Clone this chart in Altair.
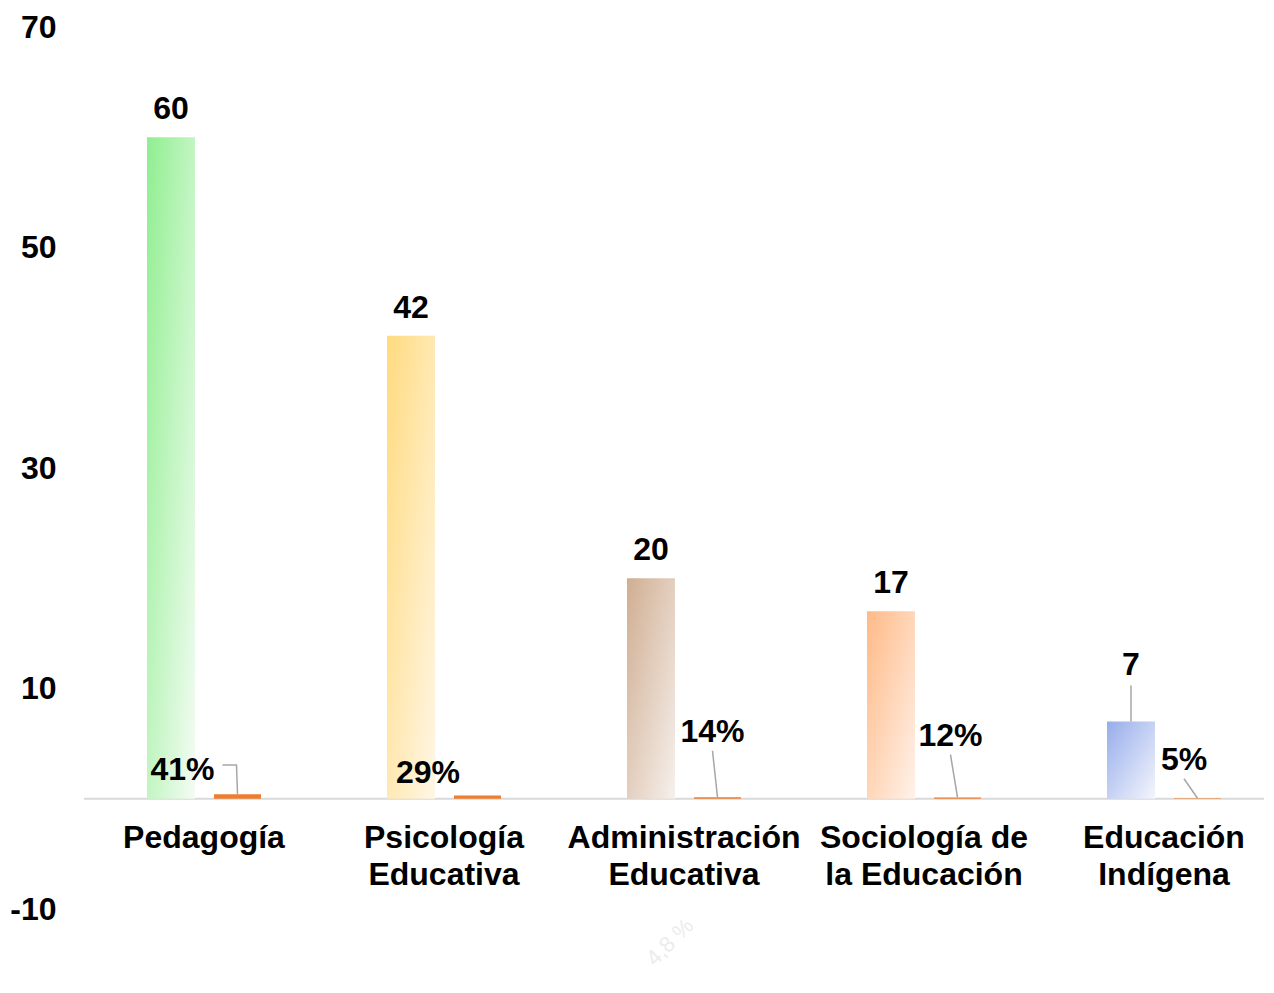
import altair as alt
import pandas as pd

# ---------------- data ----------------
categories = ["Pedagogía", "Psicología\nEducativa", "Administración\nEducativa",
              "Sociología de\nla Educación", "Educación\nIndígena"]
counts = [60, 42, 20, 17, 7]
shares = [0.41, 0.29, 0.14, 0.12, 0.05]
share_text = ["41%", "29%", "14%", "12%", "5%"]
watermark_text = "4,8 %"

y_ticks = [-10, 10, 30, 50, 70]

bar_color_dark = ["#90EE90", "#FFDB7F", "#D0AE92", "#FFBA87", "#97ADEB"]
bar_color_light = ["#F4FCF4", "#FFF6E6", "#F6F0EC", "#FFF2EA", "#F4F6FD"]
share_color = "#ED7D31"

# moved data labels (as in the source chart)
count_label_lift = [0, 0, 0, 0, 2.59]            # data units above bar top
pct_label_dx = [-21.5, -16, 28.5, 26.5, 20]      # px from category centre
pct_label_y = [2.64, 2.37, 6.09, 5.73, 3.55]     # data units
leader_kind = ["elbow", "none", "straight", "straight", "straight"]

# ---------------- layout ----------------
FONT = "Liberation Sans"
FS = 32
W, H = 1180, 882
PXX = 240.0            # px per category
PXY = H / 80.0         # px per y unit
B1 = (-57, -9)         # first bar, px from category centre
B2 = (10, 57)          # second bar
C1 = (B1[0] + B1[1]) / 2
C2 = (B2[0] + B2[1]) / 2

rows = []
for i, c in enumerate(categories):
    rows.append(dict(
        idx=i, cat=c, count=counts[i], share=shares[i], ptxt=share_text[i],
        x0=i + B1[0] / PXX, x1=i + B1[1] / PXX,
        s0=i + B2[0] / PXX, s1=i + B2[1] / PXX,
        cx=i + C1 / PXX, cly=counts[i] + count_label_lift[i],
        plx=i + pct_label_dx[i] / PXX, ply=pct_label_y[i],
    ))
df = pd.DataFrame(rows)

lead = []
lid = 0
for i in range(len(categories)):
    lx = i + pct_label_dx[i] / PXX
    lyc = pct_label_y[i] + 1.9 / PXY
    bx = i + C2 / PXX
    pts = []
    if leader_kind[i] == "straight":
        pts = [(lx, lyc - 21 / PXY), (bx, shares[i])]
    elif leader_kind[i] == "elbow":
        ey = lyc + 2.7 / PXY
        pts = [(lx + 40 / PXX, ey), (bx - 1 / PXX, ey), (bx, shares[i])]
    if pts:
        for k, (px, py) in enumerate(pts):
            lead.append(dict(id=lid, o=k, lx=px, ly=py))
        lid += 1
    if count_label_lift[i] > 0:
        cxx = i + C1 / PXX
        top = counts[i] + count_label_lift[i] + 7.5 / PXY
        lead.append(dict(id=lid, o=0, lx=cxx, ly=counts[i]))
        lead.append(dict(id=lid, o=1, lx=cxx, ly=top))
        lid += 1
lead_df = pd.DataFrame(lead)

XS = alt.Scale(domain=[-0.5, -0.5 + W / PXX], nice=False, zero=False)
YS = alt.Scale(domain=[-10, 70], nice=False, zero=False)
YAXIS = alt.Axis(values=y_ticks, title=None, grid=False, domain=False,
                 ticks=False, tickSize=0, labelPadding=28,
                 labelExpr="'' + datum.value",
                 labelFont=FONT, labelFontSize=FS, labelFontWeight="bold",
                 labelColor="#000000")


def X(f):
    return alt.X(f, type="quantitative", scale=XS, axis=None)


def Y(f):
    return alt.Y(f, type="quantitative", scale=YS, axis=YAXIS)


base = alt.Chart(df)

baseline = alt.Chart(pd.DataFrame({"z": [0]})).mark_rule(
    color="#D9D9D9", strokeWidth=2).encode(
    y=Y("z:Q"), x=alt.value(0), x2=alt.value(W))

bar_layers = []
for i in range(len(categories)):
    grad = alt.LinearGradient(
        gradient="linear",
        stops=[alt.GradientStop(color=bar_color_dark[i], offset=0),
               alt.GradientStop(color=bar_color_light[i], offset=1)],
        x1=0, y1=0, x2=1, y2=1)
    bar_layers.append(
        base.transform_filter(alt.datum.idx == i).mark_bar(color=grad).encode(
            x=X("x0:Q"), x2="x1:Q", y=Y("count:Q"), y2=alt.datum(0)))

share_bars = base.mark_bar(color=share_color).encode(
    x=X("s0:Q"), x2="s1:Q", y=Y("share:Q"), y2=alt.datum(0))

leaders = alt.Chart(lead_df).mark_line(color="#A6A6A6", strokeWidth=1.5).encode(
    x=X("lx:Q"), y=Y("ly:Q"), detail="id:N", order="o:Q")

count_labels = base.mark_text(font=FONT, fontSize=FS, fontWeight="bold", color="#000000",
                              baseline="alphabetic", align="center", dy=-18).encode(
    x=X("cx:Q"), y=Y("cly:Q"), text="count:Q")

pct_labels = base.mark_text(font=FONT, fontSize=FS, fontWeight="bold", color="#000000",
                            baseline="middle", align="center").encode(
    x=X("plx:Q"), y=Y("ply:Q"), text="ptxt:N")

cat_labels = base.mark_text(font=FONT, fontSize=FS, fontWeight="bold", color="#000000",
                            baseline="top", align="center", dy=24, lineBreak="\n",
                            lineHeight=37).encode(
    x=X("idx:Q"), y=alt.datum(0), text="cat:N")

wm = alt.Chart(pd.DataFrame({"t": [watermark_text], "wx": [2 - 14 / PXX], "wy": [-13.0]})).mark_text(
    font=FONT, fontSize=22, color="#ECECEC", angle=315, align="center", baseline="middle").encode(
    x=X("wx:Q"), y=Y("wy:Q"), text="t:N")

chart = alt.layer(baseline, *bar_layers, share_bars, leaders, count_labels, pct_labels,
                  cat_labels, wm).properties(
    width=W, height=H,
    autosize=alt.AutoSizeParams(type="none"),
    padding={"left": 76, "top": 19, "right": 0, "bottom": 66},
    background="#FFFFFF",
).configure_view(stroke=None)

chart.save("out.html", embed_options={"renderer": "svg", "actions": False})
